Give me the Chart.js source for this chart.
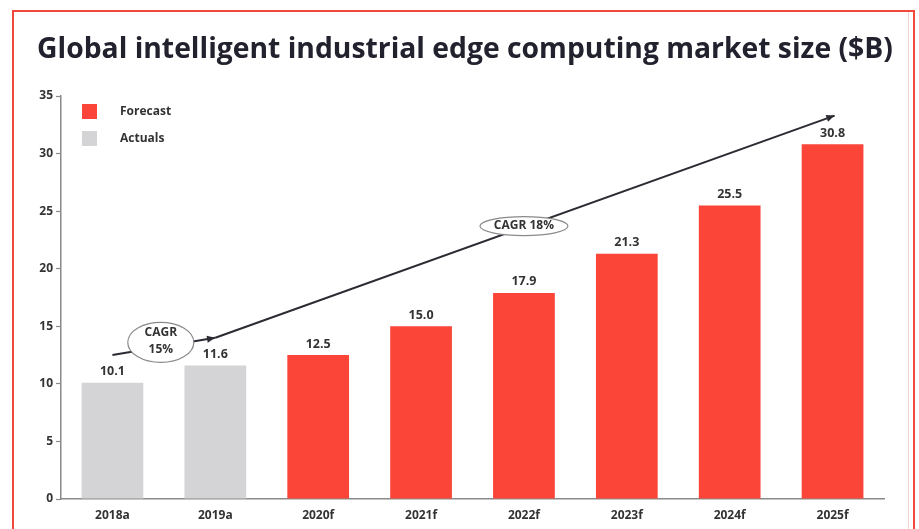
<!DOCTYPE html>
<html>
<head>
<meta charset="utf-8">
<script src="https://cdn.jsdelivr.net/npm/chart.js@4.4.1/dist/chart.umd.min.js"></script>
<style>
  html, body { margin: 0; padding: 0; background: #fff; }
  #wrap { position: relative; width: 919px; height: 529px; overflow: hidden; }
  #frame { position: absolute; left: 12px; top: 10px; width: 903px; height: 540px; border: 2px solid #f2473b; box-sizing: border-box; pointer-events: none; }
  #inner { position: absolute; left: 908px; top: 12px; width: 1px; height: 540px; background: #f3d0cc; }
  #title { position: absolute; left: 37px; top: 30px; font: bold 28.3px/34px "Open Sans", sans-serif; color: #22222e; white-space: nowrap; }
  canvas { position: absolute; left: 0; top: 0; }
</style>
</head>
<body>
<div id="wrap">
  <canvas id="chart" width="919" height="529"></canvas>
  <div id="title">Global intelligent industrial edge computing market size ($B)</div>
  <div id="frame"></div>
  <div id="inner"></div>
</div>
<script>
const categories = ['2018a', '2019a', '2020f', '2021f', '2022f', '2023f', '2024f', '2025f'];
const actuals = [10.1, 11.6, null, null, null, null, null, null];
const forecast = [null, null, 12.5, 15.0, 17.9, 21.3, 25.5, 30.8];
const yTicks = [0, 5, 10, 15, 20, 25, 30, 35];

// trend arrows: [fromIndex, fromValue, toIndex, toValue]
const trendArrows = [
  [0, 12.5, 1, 14.0],
  [1, 14.0, 7.02, 33.3]
];
// CAGR bubbles: index position, value position, text lines
const cagrNotes = [
  { x: 0.47, y: 13.6, lines: ['CAGR', '15%'], rx: 33, ry: 20 },
  { x: 4.0, y: 23.7, lines: ['CAGR 18%'], rx: 44, ry: 9.5 }
];
const legendItems = [
  { text: 'Forecast', color: '#fa4538' },
  { text: 'Actuals', color: '#d4d4d6' }
];

const RED = '#fa4538';
const GREY = '#d4d4d6';
const TXT = '#333';
const FONT = '"Open Sans", sans-serif';

const overlayPlugin = {
  id: 'overlay',
  afterDatasetsDraw(chart) {
    const { ctx, chartArea } = chart;
    const xs = chart.scales.x, ys = chart.scales.y;
    const px = i => xs.getPixelForValue(0) + i * (xs.getPixelForValue(1) - xs.getPixelForValue(0));

    ctx.save();
    // value labels
    ctx.font = 'bold 12.5px ' + FONT;
    ctx.fillStyle = TXT;
    ctx.textAlign = 'center';
    ctx.textBaseline = 'middle';
    chart.data.datasets.forEach((ds, di) => {
      chart.getDatasetMeta(di).data.forEach((bar, i) => {
        const v = ds.data[i];
        if (v == null) return;
        ctx.fillText(v.toFixed(1), bar.x, bar.y - 11);
      });
    });

    // arrows
    ctx.strokeStyle = '#2b2b33';
    ctx.fillStyle = '#2b2b33';
    ctx.lineWidth = 2;
    trendArrows.forEach(([i0, v0, i1, v1]) => {
      const x0 = px(i0), y0 = ys.getPixelForValue(v0);
      const x1 = px(i1), y1 = ys.getPixelForValue(v1);
      ctx.beginPath();
      ctx.moveTo(x0, y0);
      ctx.lineTo(x1, y1);
      ctx.stroke();
      const a = Math.atan2(y1 - y0, x1 - x0);
      ctx.beginPath();
      ctx.moveTo(x1, y1);
      ctx.lineTo(x1 - 9 * Math.cos(a - 0.4), y1 - 9 * Math.sin(a - 0.4));
      ctx.lineTo(x1 - 9 * Math.cos(a + 0.4), y1 - 9 * Math.sin(a + 0.4));
      ctx.closePath();
      ctx.fill();
    });

    // CAGR bubbles
    cagrNotes.forEach(n => {
      const cx = px(n.x), cy = ys.getPixelForValue(n.y);
      ctx.beginPath();
      ctx.ellipse(cx, cy, n.rx, n.ry, 0, 0, Math.PI * 2);
      ctx.fillStyle = '#fff';
      ctx.fill();
      ctx.strokeStyle = '#8a8a8a';
      ctx.lineWidth = 1.2;
      ctx.stroke();
      ctx.fillStyle = TXT;
      ctx.font = 'bold 12px ' + FONT;
      const lh = 17;
      n.lines.forEach((t, k) => {
        ctx.fillText(t, cx, cy - 1 + (k - (n.lines.length - 1) / 2) * lh);
      });
    });

    // legend
    ctx.textAlign = 'left';
    ctx.font = 'bold 12px ' + FONT;
    legendItems.forEach((it, k) => {
      const y = chartArea.top + 8 + k * 27;
      ctx.fillStyle = it.color;
      ctx.fillRect(chartArea.left + 21, y, 15, 15);
      ctx.fillStyle = TXT;
      ctx.fillText(it.text, chartArea.left + 59, y + 7.5);
    });
    ctx.restore();
  }
};

new Chart(document.getElementById('chart'), {
  type: 'bar',
  data: {
    labels: categories,
    datasets: [
      { label: 'Forecast', data: forecast, backgroundColor: RED, categoryPercentage: 1, barPercentage: 0.6 },
      { label: 'Actuals', data: actuals, backgroundColor: GREY, categoryPercentage: 1, barPercentage: 0.6 }
    ]
  },
  options: {
    responsive: false,
    animation: false,
    layout: { padding: { left: 20, right: 35, top: 96, bottom: 0 } },
    scales: {
      x: {
        stacked: true,
        grid: { display: false, drawTicks: false },
        border: { color: '#8a8a8a', width: 1.5 },
        ticks: { color: TXT, font: { family: FONT, size: 12, weight: 'bold' }, padding: 9 },
        afterFit: s => { s.height = 30; }
      },
      y: {
        min: 0,
        max: 35,
        afterBuildTicks: s => { s.ticks = yTicks.map(v => ({ value: v })); },
        grid: { drawOnChartArea: false, tickLength: 5, color: '#8a8a8a', tickWidth: 1.2 },
        border: { color: '#8a8a8a', width: 1.5 },
        ticks: { color: TXT, font: { family: FONT, size: 12, weight: 'bold' }, padding: 3 },
        afterFit: s => { s.width = 41; }
      }
    },
    plugins: {
      legend: { display: false },
      tooltip: { enabled: false },
      title: { display: false }
    }
  },
  plugins: [overlayPlugin]
});
</script>
</body>
</html>
